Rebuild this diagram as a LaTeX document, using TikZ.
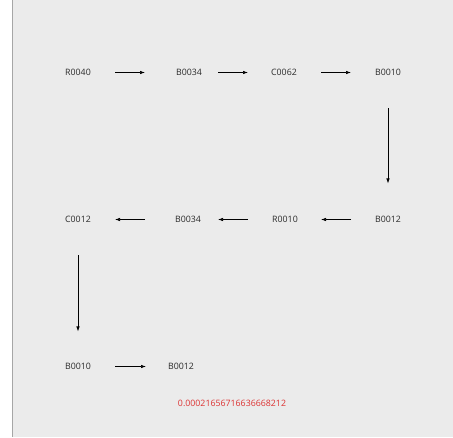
\documentclass[tikz,border=0pt]{standalone}
\usepackage{fontspec}
\setmainfont{Open Sans}
\usetikzlibrary{arrows.meta}
\definecolor{bg}{HTML}{EBEBEB}
\definecolor{txt}{HTML}{2A2A2A}
\begin{document}
\begin{tikzpicture}[x=1pt,y=-1pt,
  lbl/.style={font=\fontsize{8.8}{10}\selectfont, text=txt, inner sep=1pt},
  arr/.style={-{Latex[length=5pt,width=3.5pt]}, line width=0.7pt, black},
  varr/.style={-{Latex[length=5pt,width=3.5pt]}, line width=0.7pt, black}]
\fill[white] (0,0) rectangle (453,437);
\fill[bg] (12,0) rectangle (453,437);
\draw[gray!70, line width=1pt] (12,0) -- (12,437);
\useasboundingbox (0,0) rectangle (453,437);
% row 1
\node[lbl] (r1a) at (78,72) {R0040};
\node[lbl] (r1b) at (189,72) {B0034};
\node[lbl] (r1c) at (284,72) {C0062};
\node[lbl] (r1d) at (388,72) {B0010};
% row 2
\node[lbl] (r2a) at (78,219) {C0012};
\node[lbl] (r2b) at (188,219) {B0034};
\node[lbl] (r2c) at (285,219) {R0010};
\node[lbl] (r2d) at (388,219) {B0012};
% row 3
\node[lbl] (r3a) at (78,366) {B0010};
\node[lbl] (r3b) at (181,366) {B0012};
\node[lbl, text={rgb,255:red,220;green,50;blue,50}] (val) at (232,403) {0.00021656716636668212};
% coordinates for arrows
\coordinate (a1s) at (115,72); \coordinate (a1e) at (145,72);
\coordinate (a2s) at (218,72); \coordinate (a2e) at (248,72);
\coordinate (a3s) at (321,72); \coordinate (a3e) at (351,72);
\coordinate (v1s) at (388,108); \coordinate (v1e) at (388,183);
\coordinate (b1s) at (145,219); \coordinate (b1e) at (115,219);
\coordinate (b2s) at (248,219); \coordinate (b2e) at (218,219);
\coordinate (b3s) at (351,219); \coordinate (b3e) at (321,219);
\coordinate (v2s) at (78,255); \coordinate (v2e) at (78,331);
\coordinate (c1s) at (115,366); \coordinate (c1e) at (146,366);
\draw[arr] (a1s) -- (a1e);
\draw[arr] (a2s) -- (a2e);
\draw[arr] (a3s) -- (a3e);
\draw[varr] (v1s) -- (v1e);
\draw[arr] (b1s) -- (b1e);
\draw[arr] (b2s) -- (b2e);
\draw[arr] (b3s) -- (b3e);
\draw[varr] (v2s) -- (v2e);
\draw[arr] (c1s) -- (c1e);
\end{tikzpicture}
\end{document}
